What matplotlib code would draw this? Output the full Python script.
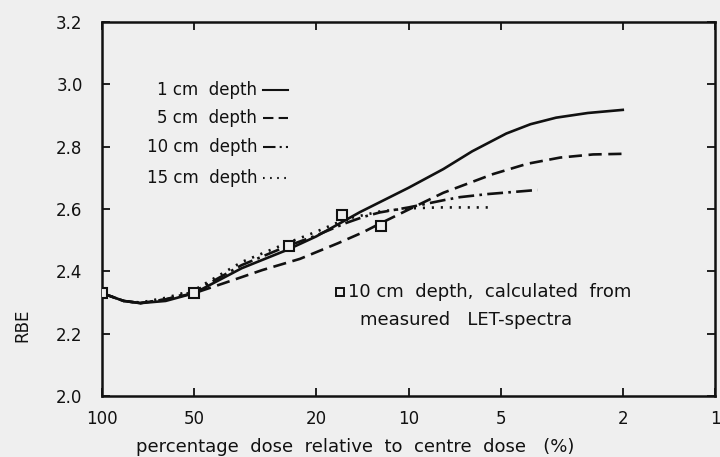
import matplotlib
matplotlib.use("Agg")
import matplotlib.pyplot as plt
from matplotlib.lines import Line2D

# RBE against percentage dose (log axis, 100 % on the left)
x_1cm = [100, 85, 75, 62, 50, 35, 25, 20, 14.4, 10, 7.7, 6.2, 4.8, 4.0, 3.3,
         2.6, 2.0]
rbe_1cm = [2.33, 2.305, 2.298, 2.305, 2.33, 2.41, 2.468, 2.512, 2.59, 2.668,
           2.728, 2.785, 2.842, 2.872, 2.893, 2.908, 2.918]

x_5cm = [100, 85, 75, 62, 50, 40, 30, 22.6, 17, 14.1, 12.4, 10, 7.7, 6.8, 5.3,
         4.1, 3.2, 2.5, 2.0]
rbe_5cm = [2.33, 2.305, 2.298, 2.31, 2.33, 2.362, 2.404, 2.44, 2.49, 2.525,
           2.553, 2.598, 2.652, 2.672, 2.712, 2.745, 2.765, 2.775, 2.777]

x_10cm = [100, 85, 75, 62, 50, 35, 25, 20, 16, 14, 12.4, 10, 7.7, 6.8, 5.5,
          4.5, 3.8]
rbe_10cm = [2.33, 2.305, 2.298, 2.31, 2.335, 2.42, 2.48, 2.515, 2.555, 2.575,
            2.589, 2.605, 2.628, 2.638, 2.648, 2.655, 2.661]

x_15cm = [100, 85, 75, 62, 50, 35, 25, 20, 16, 12.4, 10, 8, 5.5]
rbe_15cm = [2.33, 2.305, 2.30, 2.315, 2.34, 2.43, 2.49, 2.527, 2.568, 2.592,
            2.602, 2.605, 2.605]

# 10 cm depth, calculated from measured LET spectra
x_let = [100, 50, 24.5, 16.5, 12.3]
rbe_let = [2.33, 2.33, 2.48, 2.58, 2.545]

x_ticks = [100, 50, 20, 10, 5, 2, 1]
y_ticks = [2.0, 2.2, 2.4, 2.6, 2.8, 3.0, 3.2]

BG = "#efefef"
INK = "#111111"

fig = plt.figure(figsize=(7.2, 4.57), dpi=100)
fig.patch.set_facecolor(BG)
ax = fig.add_axes([0.1417, 0.1335, 0.8514, 0.8184])
ax.set_facecolor(BG)

styles = [
    ("1 cm  depth", x_1cm, rbe_1cm, dict(linestyle="-")),
    ("5 cm  depth", x_5cm, rbe_5cm, dict(dashes=(5, 2.5))),
    ("10 cm  depth", x_10cm, rbe_10cm, dict(dashes=(6, 2, 1, 2))),
    ("15 cm  depth", x_15cm, rbe_15cm, dict(dashes=(0.8, 2.6))),
]
for label, xs, ys, ls in styles:
    ax.plot(xs, ys, color=INK, lw=1.9, solid_joinstyle="round", **ls)

ax.plot(x_let, rbe_let, linestyle="none", marker="s", markersize=7,
        markerfacecolor=BG, markeredgecolor=INK, markeredgewidth=1.5,
        zorder=5)

ax.set_xscale("log")
ax.set_xlim(100, 1)
ax.set_ylim(2.0, 3.2)
ax.set_xticks(x_ticks)
ax.set_xticklabels([str(v) for v in x_ticks])
ax.minorticks_off()
ax.set_yticks(y_ticks)
ax.set_yticklabels([f"{v:.1f}" for v in y_ticks])

for s in ax.spines.values():
    s.set_linewidth(1.8)
    s.set_color(INK)
ax.tick_params(axis="both", which="major", direction="in", length=6,
               width=1.3, colors=INK, labelsize=12, top=True, right=True)
ax.tick_params(axis="y", pad=14)
ax.tick_params(axis="x", pad=10)

# line key, text right-aligned with the sample on the right
key_y = [0.818, 0.743, 0.666, 0.583]
for (label, xs, ys, ls), ky in zip(styles, key_y):
    ax.text(0.253, ky, label, transform=ax.transAxes, ha="right",
            va="center", fontsize=12, color=INK)
    ax.add_line(Line2D([0.263, 0.303], [ky, ky], transform=ax.transAxes,
                       color=INK, lw=1.5, **ls))

ax.plot([0.388], [0.278], transform=ax.transAxes, marker="s", markersize=6,
        markerfacecolor=BG, markeredgecolor=INK, markeredgewidth=1.4,
        clip_on=False)
ax.text(0.401, 0.278, "10 cm  depth,  calculated  from", transform=ax.transAxes,
        ha="left", va="center", fontsize=13, color=INK)
ax.text(0.421, 0.203, "measured   LET-spectra", transform=ax.transAxes,
        ha="left", va="center", fontsize=13, color=INK)

fig.text(0.031, 0.289, "RBE", rotation=90, ha="center", va="center",
         fontsize=12, color=INK)
fig.text(0.494, 0.022, "percentage  dose  relative  to  centre  dose   (%)",
         ha="center", va="center", fontsize=13, color=INK)

fig.savefig("out.png", dpi=100, facecolor=BG)
